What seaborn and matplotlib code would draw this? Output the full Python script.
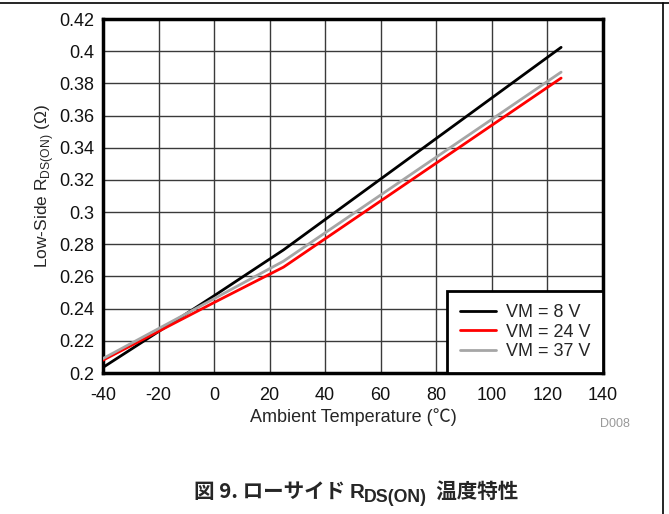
import numpy as np
import pandas as pd
import matplotlib.pyplot as plt
import seaborn as sns
from matplotlib.lines import Line2D

# data
temp = [-40, 0, 25, 125]
rds_8v = [0.2035, 0.2480, 0.2765, 0.4024]
rds_24v = [0.2080, 0.2438, 0.2658, 0.3833]
rds_37v = [0.2090, 0.2462, 0.2695, 0.3870]
series_names = ["VM = 8 V", "VM = 24 V", "VM = 37 V"]
series_colors = ["#000000", "#ff0000", "#a6a6a6"]

x_ticks = list(range(-40, 141, 20))
y_ticks = [0.2, 0.22, 0.24, 0.26, 0.28, 0.3, 0.32, 0.34, 0.36, 0.38, 0.4, 0.42]
y_tick_labels = ["0.2", "0.22", "0.24", "0.26", "0.28", "0.3", "0.32", "0.34",
                 "0.36", "0.38", "0.4", "0.42"]

# long form table for seaborn
df = pd.concat([
    pd.DataFrame({"temp": temp, "rds": vals, "vm": name})
    for name, vals in zip(series_names, [rds_8v, rds_24v, rds_37v])
], ignore_index=True)

sns.set_style("white")
plt.rcParams["font.family"] = ["Liberation Sans", "Noto Sans CJK JP", "DejaVu Sans"]
plt.rcParams["axes.unicode_minus"] = False
plt.rcParams["mathtext.fontset"] = "custom"
plt.rcParams["mathtext.rm"] = "Liberation Sans"
plt.rcParams["mathtext.bf"] = "Liberation Sans:bold"

fig = plt.figure(figsize=(6.69, 5.14), dpi=100)
ax = fig.add_axes([0.154, 0.2743, 0.747, 0.6887])

sns.lineplot(data=df, x="temp", y="rds", hue="vm", hue_order=series_names,
             palette=series_colors, linewidth=2, ax=ax, zorder=3)

ax.set_xlim(-40, 140)
ax.set_ylim(0.2, 0.42)
ax.set_xticks(x_ticks)
ax.set_yticks(y_ticks)
ax.set_yticklabels(y_tick_labels)
ax.tick_params(length=0, labelsize=13, colors="#111111")
ax.tick_params(axis="x", pad=10)
ax.tick_params(axis="y", pad=6)
ax.grid(True, color="#3a3a3a", linewidth=1)
for sp in ax.spines.values():
    sp.set_linewidth(2.5)
    sp.set_color("black")

ax.set_xlabel("Ambient Temperature (\u2103)", fontsize=13, labelpad=3)
ax.set_ylabel(r"Low-Side R$_{\mathrm{DS(ON)}}$ ($\Omega$)", fontsize=12.5)
ax.yaxis.set_label_coords(-0.094, 0.527)

leg = ax.legend(loc="lower right", fontsize=13, frameon=True, fancybox=False,
                borderaxespad=0, handlelength=2.0, labelspacing=0.15,
                borderpad=0.7, handletextpad=0.55)
leg.get_frame().set_edgecolor("black")
leg.get_frame().set_linewidth(2)
leg.get_frame().set_alpha(1)

fig.text(0.919, 0.169, "D008", fontsize=9, color="#999999", ha="center")

# caption: built from pieces so the subscript can be sized freely
pieces = [
    ("図 9. ローサイド ", 14.8, 0, "Noto Sans CJK JP"),
    ("R", 14.8, 0, "Liberation Sans"),
    ("DS(ON)", 12.8, -4, "Liberation Sans"),
    ("  温度特性", 14.8, 0, "Noto Sans CJK JP"),
]
renderer = fig.canvas.get_renderer()
texts = []
x_px = 0.0
base_y = 514 * 0.032
for s, size, dy, fam in pieces:
    t = fig.text(x_px, base_y + dy, s, fontsize=size, fontweight="bold",
                 family=fam, ha="left", va="baseline", transform=None)
    texts.append(t)
    x_px = t.get_window_extent(renderer).x1
shift = 356 - x_px / 2
for t in texts:
    x, y = t.get_position()
    t.set_position((x + shift, y))

# outer frame (top and right edges)
fig.add_artist(Line2D([0, 1], [0.994, 0.994], color="black", linewidth=1.2,
                      transform=fig.transFigure))
fig.add_artist(Line2D([0.991, 0.991], [0, 0.994], color="black", linewidth=1.2,
                      transform=fig.transFigure))

fig.savefig("out.png", dpi=100)
